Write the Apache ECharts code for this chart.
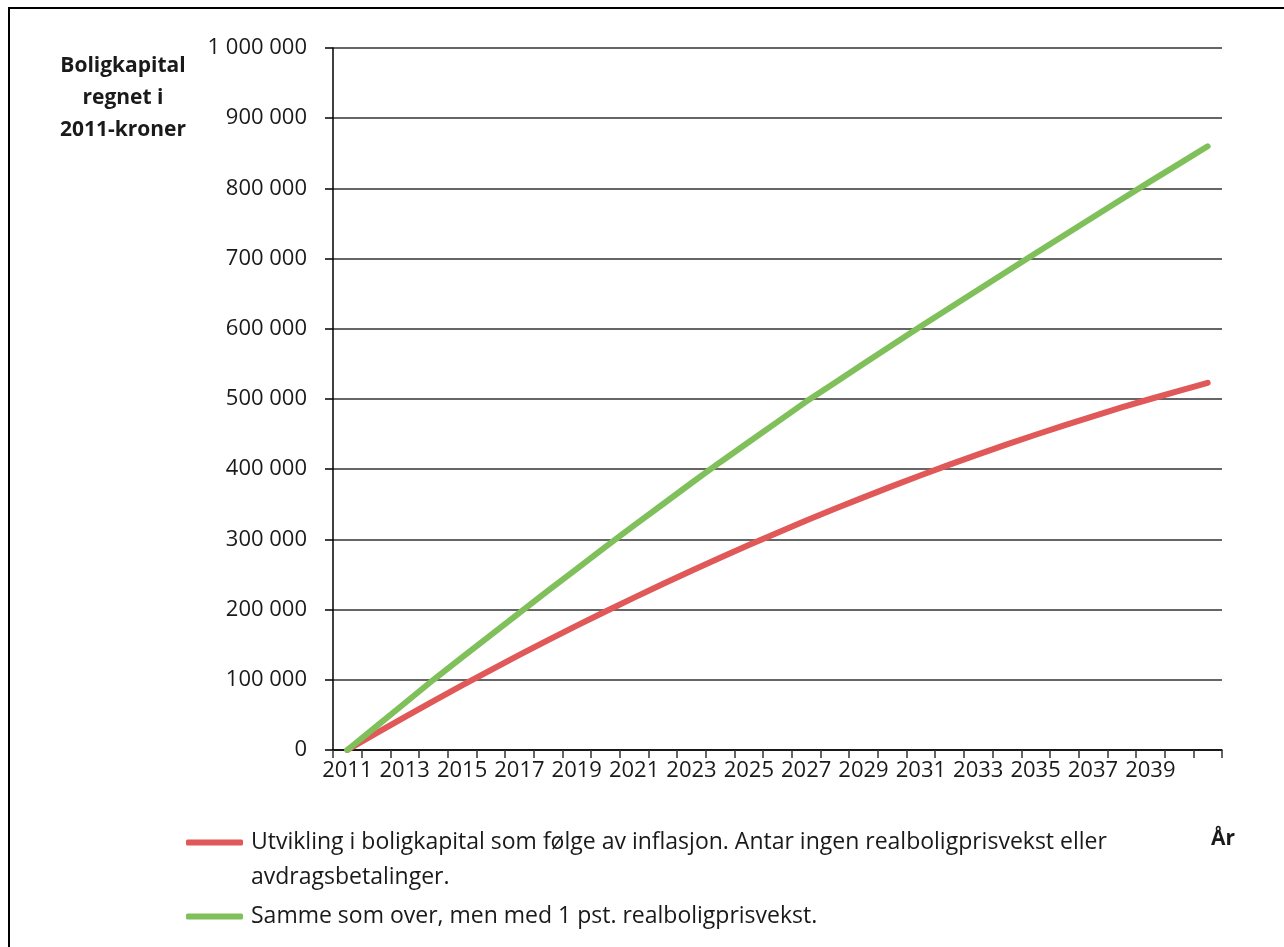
<!DOCTYPE html>
<html>
<head>
<meta charset="utf-8">
<script src="https://cdn.jsdelivr.net/npm/echarts@6/dist/echarts.min.js"></script>
<style>
  html, body { margin: 0; padding: 0; background: #fff; }
  #chart { width: 1284px; height: 947px; }
  #frame { position: absolute; left: 8px; top: 7px; width: 1400px; height: 1100px;
           border-left: 2px solid #000; border-top: 2px solid #000; pointer-events: none; }
</style>
</head>
<body>
<div id="chart"></div>
<div id="frame"></div>
<script>
const years = [2011,2012,2013,2014,2015,2016,2017,2018,2019,2020,2021,2022,2023,2024,2025,2026,
  2027,2028,2029,2030,2031,2032,2033,2034,2035,2036,2037,2038,2039,2040,2041].map(String);

const seriesInflation = [0, 23600, 46800, 69600, 92000, 113900, 135400, 156500, 177100, 197300,
  217100, 236500, 255400, 273900, 291900, 309500, 326800, 343600, 359900, 375900,
  391400, 406500, 421100, 435300, 449100, 462500, 475400, 488000, 500000, 511700, 523100];

const seriesReal = [0, 33300, 66600, 100000, 131800, 163600, 195400, 226900, 258100, 289400,
  319900, 350100, 380300, 410000, 438700, 467400, 496300, 523300, 550100, 576900,
  603600, 629600, 655600, 681600, 707700, 733300, 758900, 784500, 810000, 835000, 860000];

const nameInflation = 'Utvikling i boligkapital som følge av inflasjon. Antar ingen realboligprisvekst eller\navdragsbetalinger.';
const nameReal = 'Samme som over, men med 1 pst. realboligprisvekst.';

const yTitle = 'Boligkapital\nregnet i\n2011-kroner';
const xTitle = 'År';

const FONT = 'Open Sans';
const RED = '#E05858';
const GREEN = '#80C05A';
const chart = echarts.init(document.getElementById('chart'), null, {renderer: 'canvas'});

chart.setOption({
  backgroundColor: '#ffffff',
  animation: false,
  textStyle: { fontFamily: FONT },
  title: [
    { text: yTitle, left: 118, top: 45, textAlign: 'center',
      textStyle: { fontFamily: FONT, fontSize: 21, fontWeight: 'bold', color: '#1a1a1a', lineHeight: 32 } },
    { text: xTitle, left: 1206, top: 824,
      textStyle: { fontFamily: FONT, fontSize: 21, fontWeight: 'bold', color: '#1a1a1a' } }
  ],
  grid: { left: 333, right: 62, top: 48, bottom: 197, containLabel: false },
  legend: [
    { data: [{ name: nameInflation, itemStyle: { color: RED } }],
      formatter: n => '\n' + n,
      left: 181, top: 785, itemWidth: 57, itemHeight: 6, padding: 5,
      icon: 'roundRect',
      textStyle: { fontFamily: FONT, fontSize: 23, color: '#1a1a1a', lineHeight: 35, padding: [0, 0, 0, 3] } },
    { data: [{ name: nameReal, itemStyle: { color: GREEN } }],
      left: 181, top: 894, itemWidth: 57, itemHeight: 6, padding: 5,
      icon: 'roundRect',
      textStyle: { fontFamily: FONT, fontSize: 23, color: '#1a1a1a', lineHeight: 35, padding: [0, 0, 0, 3] } }
  ],
  xAxis: {
    type: 'category',
    data: years,
    boundaryGap: true,
    axisLine: { lineStyle: { color: '#000', width: 1.5 } },
    axisTick: { show: true, interval: 0, length: 8, lineStyle: { color: '#333', width: 1.5 } },
    axisLabel: { interval: 1, margin: 10, fontFamily: FONT, fontSize: 22, color: '#1a1a1a',
      formatter: (v, i) => (i === years.length - 1 ? '' : v) },
    splitLine: { show: false }
  },
  yAxis: {
    type: 'value',
    min: 0, max: 1000000, interval: 100000,
    axisLine: { show: true, lineStyle: { color: '#000', width: 1.5 } },
    axisTick: { show: true, length: 8, lineStyle: { color: '#000', width: 1.5 } },
    axisLabel: { margin: 26, fontFamily: FONT, fontSize: 22, color: '#1a1a1a',
      formatter: v => String(v).replace(/\B(?=(\d{3})+(?!\d))/g, ' ') },
    splitLine: { show: true, lineStyle: { color: '#333', width: 1.5 } }
  },
  series: [
    { name: nameInflation, type: 'line', data: seriesInflation, symbol: 'none',
      lineStyle: { color: RED, width: 6, cap: 'round' }, itemStyle: { color: RED } },
    { name: nameReal, type: 'line', data: seriesReal, symbol: 'none',
      lineStyle: { color: GREEN, width: 6, cap: 'round' }, itemStyle: { color: GREEN } }
  ]
});
</script>
</body>
</html>
